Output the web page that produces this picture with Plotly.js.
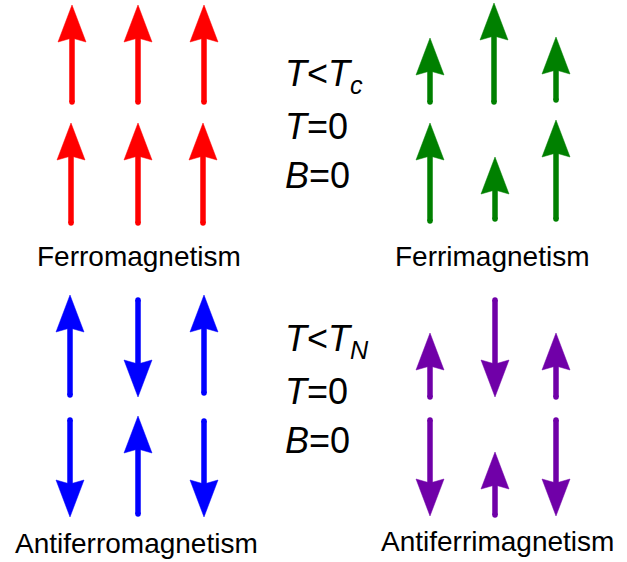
<!DOCTYPE html>
<html>
<head>
<meta charset="utf-8">
<script src="https://cdn.plot.ly/plotly-3.0.1.min.js"></script>
<style>html,body{margin:0;padding:0;background:#fff;}#chart{width:627px;height:562px;}</style>
</head>
<body>
<div id="chart"></div>
<script>
// ---- data (pixel-space coordinates of each spin arrow: x, tail y, tip y) ----
var ferroX    = [72, 138, 204, 71, 138, 203];
var ferroTail = [102, 102, 102, 223, 223, 223];
var ferroTip  = [5, 5, 5, 123, 123, 123];

var ferriX    = [430, 494, 556, 430, 495, 556];
var ferriTail = [102, 102, 100, 221, 219, 219];
var ferriTip  = [38, 3, 37, 123, 157, 120];

var afmX      = [70, 138, 204, 70, 138, 204];
var afmTail   = [395, 300, 393, 420, 514, 421];
var afmTip    = [295, 397, 295, 517, 416, 517];

var afimX     = [430, 495, 556, 430, 495, 556];
var afimTail  = [397, 300, 397, 420, 515, 420];
var afimTip   = [333, 397, 333, 516, 452, 516];

var panelLabels = ["Ferromagnetism", "Ferrimagnetism", "Antiferromagnetism", "Antiferrimagnetism"];
var labelX = [139, 492, 136, 497];
var labelY = [256, 256, 543, 541];

var condTop = ["<i>T</i>&lt;<i>T</i><sub><i>c</i></sub>", "<i>T</i>=0", "<i>B</i>=0"];
var condBot = ["<i>T</i>&lt;<i>T</i><sub><i>N</i></sub>", "<i>T</i>=0", "<i>B</i>=0"];
var condTopY = [76, 126, 175];
var condBotY = [341, 391, 440];
var condX = 283;

// ---- style ----
var colors = ["#ff0000", "#008000", "#0000ff", "#7000a8"];
var HEAD_LEN = 37, HEAD_HALF = 14, NOTCH = 4, SHAFT = 5.5;

function arrowTraces(xs, tails, tips, color) {
  var sx = [], sy = [], hx = [], hy = [];
  for (var i = 0; i < xs.length; i++) {
    var x = xs[i], t = tails[i], p = tips[i];
    var dir = p < t ? 1 : -1; // +1 => pointing up (screen)
    var neck = p + dir * (HEAD_LEN - NOTCH - 1);
    sx.push(x, x, null); sy.push(t, neck, null);
    hx.push(x, x + HEAD_HALF, x, x - HEAD_HALF, x, null);
    hy.push(p, p + dir * HEAD_LEN, p + dir * (HEAD_LEN - NOTCH), p + dir * HEAD_LEN, p, null);
  }
  return [
    {x: sx, y: sy, mode: "lines", line: {color: color, width: SHAFT}, hoverinfo: "skip", showlegend: false},
    {x: xs, y: tails, mode: "markers", marker: {color: color, size: SHAFT, line: {width: 0}}, hoverinfo: "skip", showlegend: false},
    {x: hx, y: hy, mode: "lines", fill: "toself", fillcolor: color, line: {color: color, width: 0.5}, hoverinfo: "skip", showlegend: false}
  ];
}

var data = [].concat(
  arrowTraces(ferroX, ferroTail, ferroTip, colors[0]),
  arrowTraces(ferriX, ferriTail, ferriTip, colors[1]),
  arrowTraces(afmX, afmTail, afmTip, colors[2]),
  arrowTraces(afimX, afimTail, afimTip, colors[3])
);

var FONT = "Liberation Sans, Arial, Helvetica, sans-serif";
var annotations = [];
for (var i = 0; i < panelLabels.length; i++) {
  annotations.push({x: labelX[i], y: labelY[i], xref: "x", yref: "y", text: panelLabels[i],
    showarrow: false, xanchor: "center", yanchor: "middle", font: {family: FONT, size: 28, color: "#000"}});
}
for (var j = 0; j < 3; j++) {
  annotations.push({x: condX, y: condTopY[j], xref: "x", yref: "y", text: condTop[j], showarrow: false,
    xanchor: "left", yanchor: "middle", font: {family: FONT, size: 36, color: "#000"}});
  annotations.push({x: condX, y: condBotY[j], xref: "x", yref: "y", text: condBot[j], showarrow: false,
    xanchor: "left", yanchor: "middle", font: {family: FONT, size: 36, color: "#000"}});
}

var layout = {
  width: 627, height: 562,
  margin: {l: 0, r: 0, t: 0, b: 0, pad: 0},
  paper_bgcolor: "#fff", plot_bgcolor: "#fff",
  xaxis: {range: [0, 627], visible: false, fixedrange: true},
  yaxis: {range: [562, 0], visible: false, fixedrange: true},
  annotations: annotations,
  showlegend: false
};

Plotly.newPlot("chart", data, layout, {staticPlot: true, displayModeBar: false});
</script>
</body>
</html>
